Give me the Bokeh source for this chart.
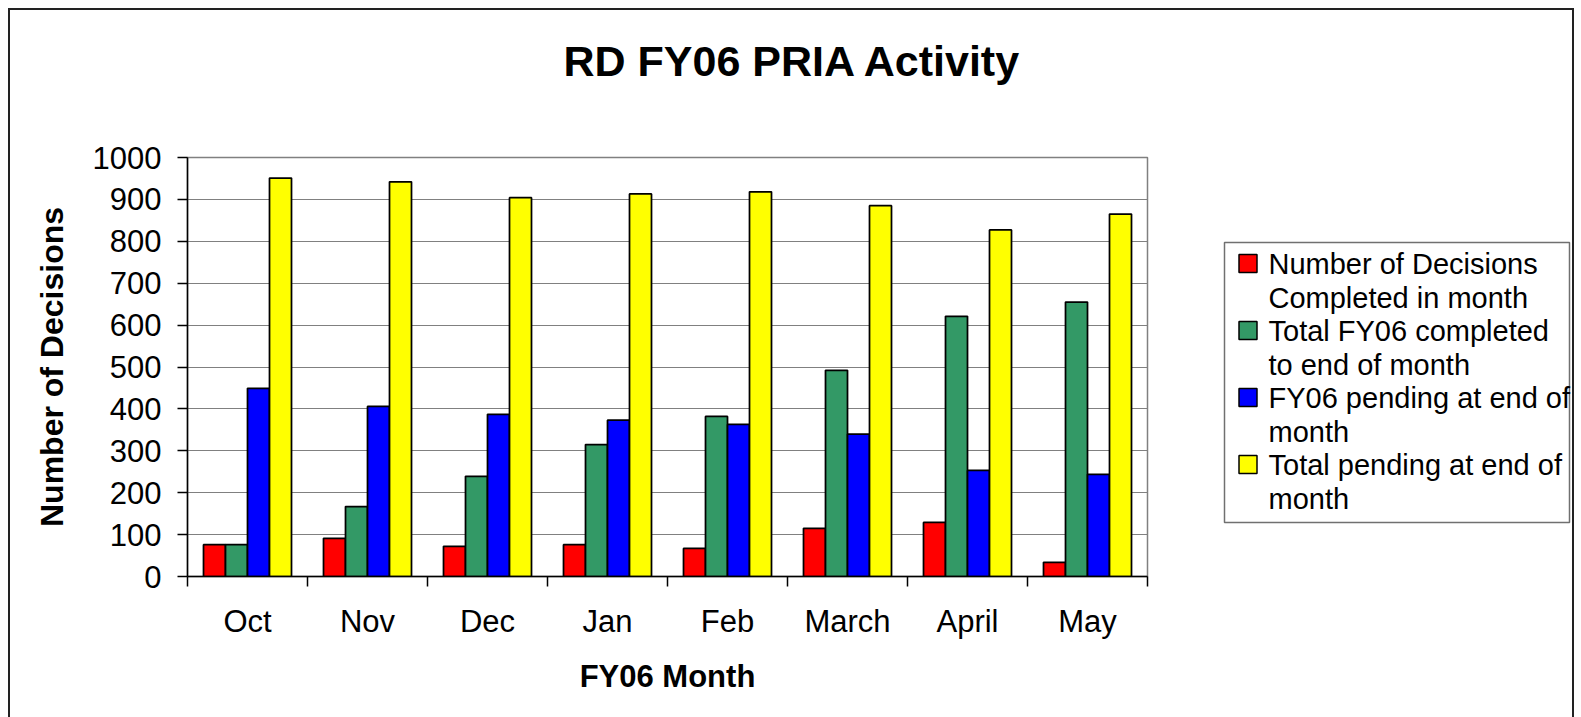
from bokeh.plotting import figure
from bokeh.models import Range1d, FixedTicker, Row, ColumnDataSource, CustomJSTickFormatter
from bokeh.transform import dodge
from bokeh.embed import file_html
from bokeh.resources import INLINE
from bokeh.core.properties import value

# ---- data ----
months = ["Oct", "Nov", "Dec", "Jan", "Feb", "March", "April", "May"]
completed_in_month = [76, 91, 72, 76, 67, 115, 129, 34]
total_completed = [76, 167, 239, 315, 382, 492, 621, 655]
fy06_pending = [449, 406, 387, 373, 363, 340, 253, 244]
total_pending = [951, 942, 904, 913, 918, 885, 827, 865]
series_labels = [
    "Number of Decisions\nCompleted in month",
    "Total FY06 completed\nto end of month",
    "FY06 pending at end of\nmonth",
    "Total pending at end of\nmonth",
]
series_colors = ["#FF0000", "#339966", "#0000FF", "#FFFF00"]
y_ticks = [0, 100, 200, 300, 400, 500, 600, 700, 800, 900, 1000]
title_text = "RD FY06 PRIA Activity"

FONT = "Liberation Sans"
W_MAIN, W_LEG, H = 1150, 412, 707
B_TOP, B_BOTTOM = 147, 141

series = [completed_in_month, total_completed, fy06_pending, total_pending]
x_pos = [i + 0.5 for i in range(len(months))]
data = dict(x=x_pos)
for k, s in enumerate(series):
    data["s%d" % k] = s
src = ColumnDataSource(data)

p = figure(width=W_MAIN, height=H,
           x_range=Range1d(0, len(months)), y_range=Range1d(y_ticks[0], y_ticks[-1]),
           output_backend="svg", toolbar_location=None,
           min_border_left=177, min_border_right=13,
           min_border_top=B_TOP, min_border_bottom=B_BOTTOM)

bar_w = 22 / 120
for k in range(4):
    off = (k - 1.5) * bar_w
    p.vbar(x=dodge("x", off, range=p.x_range), top="s%d" % k, width=bar_w,
           source=src, fill_color=series_colors[k], line_color="black", line_width=1.75)

# title: a blank second line lifts the text higher above the frame
p.title.text = title_text + "\n "
p.title.text_font = FONT
p.title.text_font_size = "43px"
p.title.text_font_style = "bold"
p.title.text_color = "black"
p.title.align = "left"
p.title.offset = 376
p.title.standoff = 49

# frame
p.outline_line_color = "#808080"
p.outline_line_width = 1.5
p.background_fill_color = "white"
p.xgrid.visible = False
p.ygrid.grid_line_color = "#808080"
p.ygrid.grid_line_width = 1

# y axis
p.yaxis.ticker = FixedTicker(ticks=y_ticks)
p.yaxis.axis_line_color = "black"
p.yaxis.axis_line_width = 1.5
p.yaxis.major_tick_out = 10
p.yaxis.major_tick_in = 0
p.yaxis.major_tick_line_color = "black"
p.yaxis.major_tick_line_width = 1.5
p.yaxis.minor_tick_line_color = None
p.yaxis.major_label_text_font = FONT
p.yaxis.major_label_text_font_size = "31px"
p.yaxis.major_label_text_color = "black"
p.yaxis.major_label_standoff = 16
p.yaxis.axis_label = "Number of Decisions"
p.yaxis.axis_label_text_font = FONT
p.yaxis.axis_label_text_font_size = "32px"
p.yaxis.axis_label_text_font_style = "bold"
p.yaxis.axis_label_text_color = "black"
p.yaxis.axis_label_standoff = 20

# x axis
p.xaxis.ticker = FixedTicker(ticks=x_pos, minor_ticks=list(range(len(months) + 1)))
p.xaxis.formatter = CustomJSTickFormatter(args=dict(labels=months),
                                          code="return labels[Math.floor(tick)] || '';")
p.xaxis.axis_line_color = "black"
p.xaxis.axis_line_width = 1.5
p.xaxis.major_tick_out = 10
p.xaxis.major_tick_in = 0
p.xaxis.major_tick_line_color = None
p.xaxis.minor_tick_out = 10
p.xaxis.minor_tick_in = 0
p.xaxis.minor_tick_line_color = "black"
p.xaxis.minor_tick_line_width = 1.5
p.xaxis.major_label_text_font = FONT
p.xaxis.major_label_text_font_size = "31px"
p.xaxis.major_label_text_color = "black"
p.xaxis.major_label_standoff = 17
p.xaxis.axis_label = "FY06 Month"
p.xaxis.axis_label_text_font = FONT
p.xaxis.axis_label_text_font_size = "31px"
p.xaxis.axis_label_text_font_style = "bold"
p.xaxis.axis_label_text_color = "black"
p.xaxis.axis_label_standoff = 17

# ---- legend panel (data units == pixels of this panel, y downward) ----
p2 = figure(width=W_LEG, height=H, x_range=Range1d(0, W_LEG),
            y_range=Range1d(H - B_BOTTOM, B_TOP),
            x_axis_type=None, y_axis_type=None, output_backend="svg",
            toolbar_location=None, min_border_left=0, min_border_right=0,
            min_border_top=B_TOP, min_border_bottom=B_BOTTOM, outline_line_color=None)
p2.grid.visible = False

box_l, box_r, box_t, box_b = 64, 409, 232, 512
p2.quad(left=[box_l], right=[box_r], top=[box_t], bottom=[box_b],
        fill_color="white", line_color="#707070", line_width=1.5)

first_y = 253
item_h = 67
line_h = 34
sq_x = 87.5
txt_x = 108
for k, lab in enumerate(series_labels):
    yy = first_y + item_h * k
    p2.rect(x=[sq_x], y=[yy], width=18, height=18, fill_color=series_colors[k],
            line_color="black", line_width=1.5)
    lines = lab.split("\n")
    p2.text(x=[txt_x] * len(lines), y=[yy + line_h * j for j in range(len(lines))],
            text=lines, text_font=value(FONT), text_font_size=value("29px"),
            text_baseline="middle", text_align="left", text_color="black")

layout = Row(children=[p, p2], styles={
    "margin-left": "8px",
    "margin-top": "8px",
    "border-left": "2px solid #222222",
    "border-top": "2px solid #222222",
    "border-right": "2px solid #222222",
})

open("out.html", "w").write(file_html(layout, INLINE))
